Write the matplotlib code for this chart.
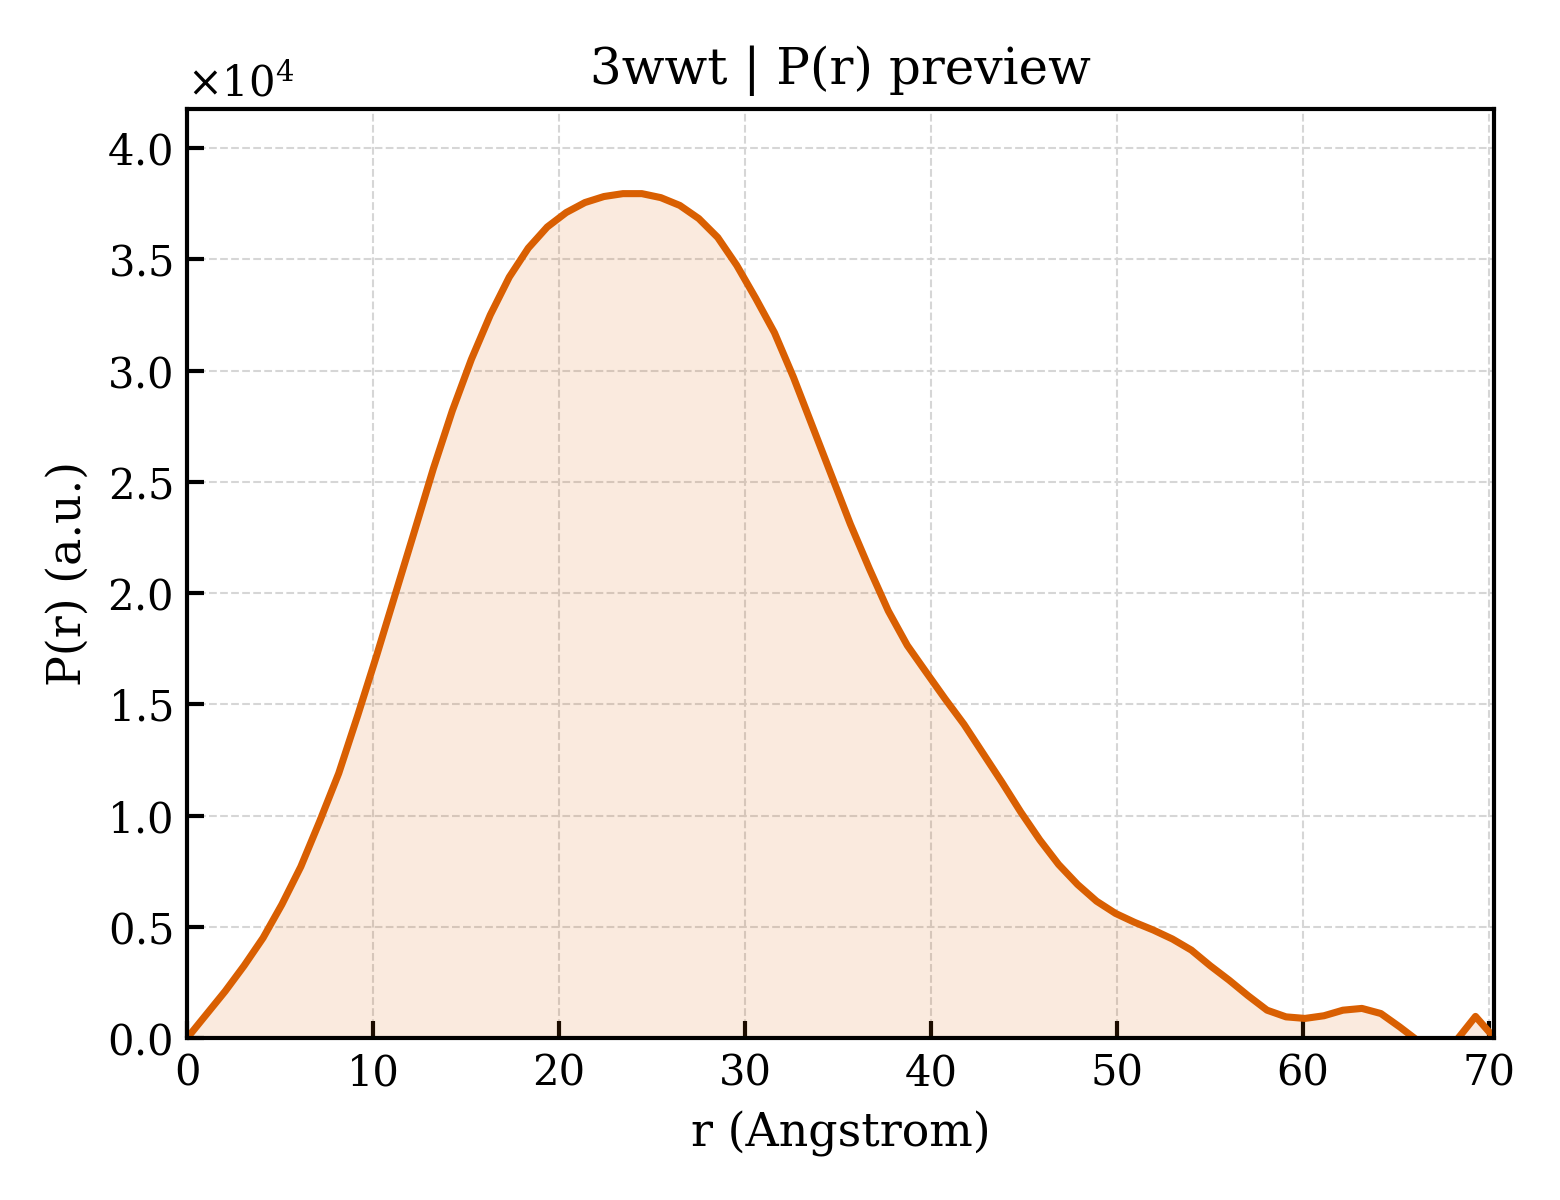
import matplotlib
matplotlib.use("Agg")
import matplotlib.pyplot as plt
import numpy as np
from matplotlib.ticker import ScalarFormatter

plt.rcParams['font.family'] = 'DejaVu Serif'
plt.rcParams['mathtext.fontset'] = 'dejavuserif'

# r grid (Angstrom)
r = [0.00, 1.02, 2.04, 3.06, 4.08, 5.09, 6.11, 7.13, 8.15, 9.17,
     10.19, 11.21, 12.23, 13.24, 14.26, 15.28, 16.30, 17.32, 18.34, 19.36,
     20.38, 21.39, 22.41, 23.43, 24.45, 25.47, 26.49, 27.51, 28.53, 29.55,
     30.57, 31.58, 32.60, 33.62, 34.64, 35.66, 36.68, 37.70, 38.72, 39.73,
     40.75, 41.77, 42.79, 43.81, 44.83, 45.85, 46.86, 47.88, 48.90, 49.92,
     50.94, 51.96, 52.98, 54.00, 55.01, 56.03, 57.05, 58.07, 59.09, 60.11,
     61.13, 62.15, 63.17, 64.19, 65.20, 66.22, 67.24, 68.26, 69.28, 70.30]

# P(r) values (a.u.)
pr = [0, 1050, 2100, 3250, 4500, 6000, 7700, 9750, 11900, 14500,
      17200, 20000, 22800, 25600, 28200, 30500, 32500, 34200, 35500, 36450,
      37100, 37550, 37820, 37950, 37950, 37770, 37420, 36830, 35980, 34730,
      33250, 31700, 29700, 27500, 25300, 23100, 21100, 19200, 17650, 16450,
      15250, 14100, 12800, 11500, 10150, 8900, 7800, 6900, 6150, 5600,
      5200, 4850, 4450, 3950, 3250, 2600, 1900, 1250, 950, 880,
      1000, 1250, 1330, 1100, 500, -150, -450, -100, 970, 0]

r = np.array(r)
pr = np.array(pr, dtype=float)

col = '#d95f02'

fig = plt.figure(figsize=(5.2, 4.0), dpi=300)
ax = fig.add_axes([0.12, 0.135, 0.838, 0.774])

ax.fill_between(r, pr, 0, color=col, alpha=0.13, linewidth=0)
ax.plot(r, pr, color=col, lw=1.7)

ax.set_xlim(0, r.max())
ax.set_ylim(0, pr.max() * 1.1)

fmt = ScalarFormatter(useMathText=True)
fmt.set_powerlimits((0, 0))
ax.yaxis.set_major_formatter(fmt)

ax.grid(True, linestyle='--', linewidth=0.5, color='#d6d6d6')
ax.set_axisbelow(True)
ax.tick_params(direction='in', length=4, width=1, labelsize=10)
for s in ax.spines.values():
    s.set_linewidth(1.0)

ax.set_xlabel('r (Angstrom)', fontsize=11)
ax.set_ylabel('P(r) (a.u.)', fontsize=11)
ax.set_title('3wwt | P(r) preview', fontsize=12)
ax.yaxis.get_offset_text().set_fontsize(10)

fig.savefig('out.png', dpi=300)
